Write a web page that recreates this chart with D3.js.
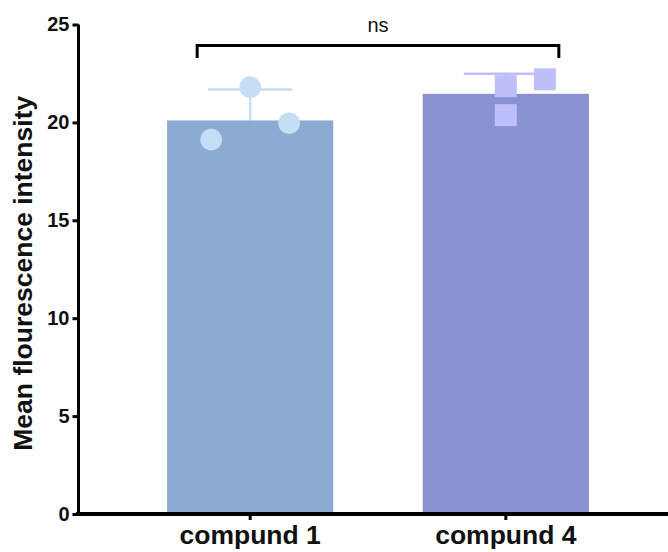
<!DOCTYPE html>
<html><head><meta charset="utf-8">
<script src="https://cdn.jsdelivr.net/npm/d3@7"></script>
<style>body{margin:0;background:#fff}svg{display:block}</style>
</head><body>
<svg id="c" width="668" height="552"></svg>
<script>
const categories = ["compund 1", "compund 4"];
const means = [20.1, 21.46];
const sds = [1.58, 1.02];
const points1 = [21.80, 19.96, 19.12];
const points4 = [21.85, 22.20, 20.37];
const jitter1 = [0, 1, -1];
const jitter4 = [0, 1, 0];
const yTicks = [0, 5, 10, 15, 20, 25];
const yTitle = "Mean flourescence intensity";
const sigLabel = "ns";

const barColors = ["#8BABD3", "#8A91D0"];
const ptColors = ["#C6DDF6", "#BEBFFA"];

const svg = d3.select("#c");
const x = d3.scaleBand().domain(categories).range([84, 672]).paddingInner(0.35).paddingOuter(0.325);
const y = d3.scaleLinear().domain([0, 25]).range([514, 24.5]);
const bw = x.bandwidth();
const font = "'Liberation Sans', Arial, sans-serif";

const data = categories.map((c, i) => ({
  cat: c, mean: means[i], sd: sds[i],
  pts: (i === 0 ? points1 : points4).map((v, j) => ({v, k: (i === 0 ? jitter1 : jitter4)[j]}))
}));

// error bars (drawn under bars)
data.forEach((d, i) => {
  const cx = x(d.cat) + bw / 2;
  const g = svg.append("g").attr("stroke", ptColors[i]).attr("stroke-width", 2.5);
  g.append("line").attr("x1", cx).attr("x2", cx).attr("y1", y(d.mean)).attr("y2", y(d.mean + d.sd));
  g.append("line").attr("x1", cx - 42).attr("x2", cx + 42).attr("y1", y(d.mean + d.sd)).attr("y2", y(d.mean + d.sd));
});

// bars
svg.selectAll("rect.bar").data(data).join("rect").attr("class", "bar")
  .attr("x", d => x(d.cat)).attr("width", bw)
  .attr("y", d => y(d.mean)).attr("height", d => y(0) - y(d.mean))
  .attr("fill", (d, i) => barColors[i]);

// points
const off = 39;
svg.selectAll("circle.pt").data(data[0].pts).join("circle").attr("class", "pt")
  .attr("cx", p => x(categories[0]) + bw / 2 + p.k * off).attr("cy", p => y(p.v))
  .attr("r", 10.8).attr("fill", ptColors[0]);
svg.selectAll("rect.pt").data(data[1].pts).join("rect").attr("class", "pt")
  .attr("x", p => x(categories[1]) + bw / 2 + p.k * off - 11).attr("y", p => y(p.v) - 11)
  .attr("width", 22).attr("height", 22).attr("fill", ptColors[1]);

// y axis
const yAxis = svg.append("g").attr("transform", "translate(78.5,0)")
  .call(d3.axisLeft(y).tickValues(yTicks).tickSize(6).tickPadding(3).tickFormat(d3.format("d")));
yAxis.select(".domain").attr("d", `M0,${y(25)}V${y(0)}`).attr("stroke", "#000").attr("stroke-width", 3);
yAxis.selectAll(".tick line").attr("stroke", "#000").attr("stroke-width", 3);
yAxis.selectAll(".tick text").attr("font-family", font).attr("font-weight", "bold").attr("font-size", 20).attr("fill", "#111");

// x axis
const xAxis = svg.append("g").attr("transform", `translate(0,${y(0)})`)
  .call(d3.axisBottom(x).tickSize(6).tickPadding(6));
xAxis.select(".domain").attr("d", `M76,0H668`).attr("stroke", "#000").attr("stroke-width", 4);
xAxis.selectAll(".tick line").attr("stroke", "#000").attr("stroke-width", 3);
xAxis.selectAll(".tick text").attr("font-family", font).attr("font-weight", "bold").attr("font-size", 26.5).attr("fill", "#111").attr("dy", "0.68em");

// y title
svg.append("text").attr("transform", `translate(32,${(y(0) + y(25)) / 2 + 4}) rotate(-90)`)
  .attr("text-anchor", "middle").attr("font-family", font).attr("font-weight", "bold").attr("font-size", 26.5).attr("fill", "#111")
  .text(yTitle);

// significance bracket
const xa = x(categories[0]) + bw / 2 - 53, xb = x(categories[1]) + bw / 2 + 53;
svg.append("path").attr("d", `M${xa},58V45.5H${xb}V58`).attr("fill", "none").attr("stroke", "#000").attr("stroke-width", 3);
svg.append("text").attr("x", (xa + xb) / 2).attr("y", 32).attr("text-anchor", "middle")
  .attr("font-family", font).attr("font-size", 20).attr("fill", "#111").text(sigLabel);
</script>
</body></html>
